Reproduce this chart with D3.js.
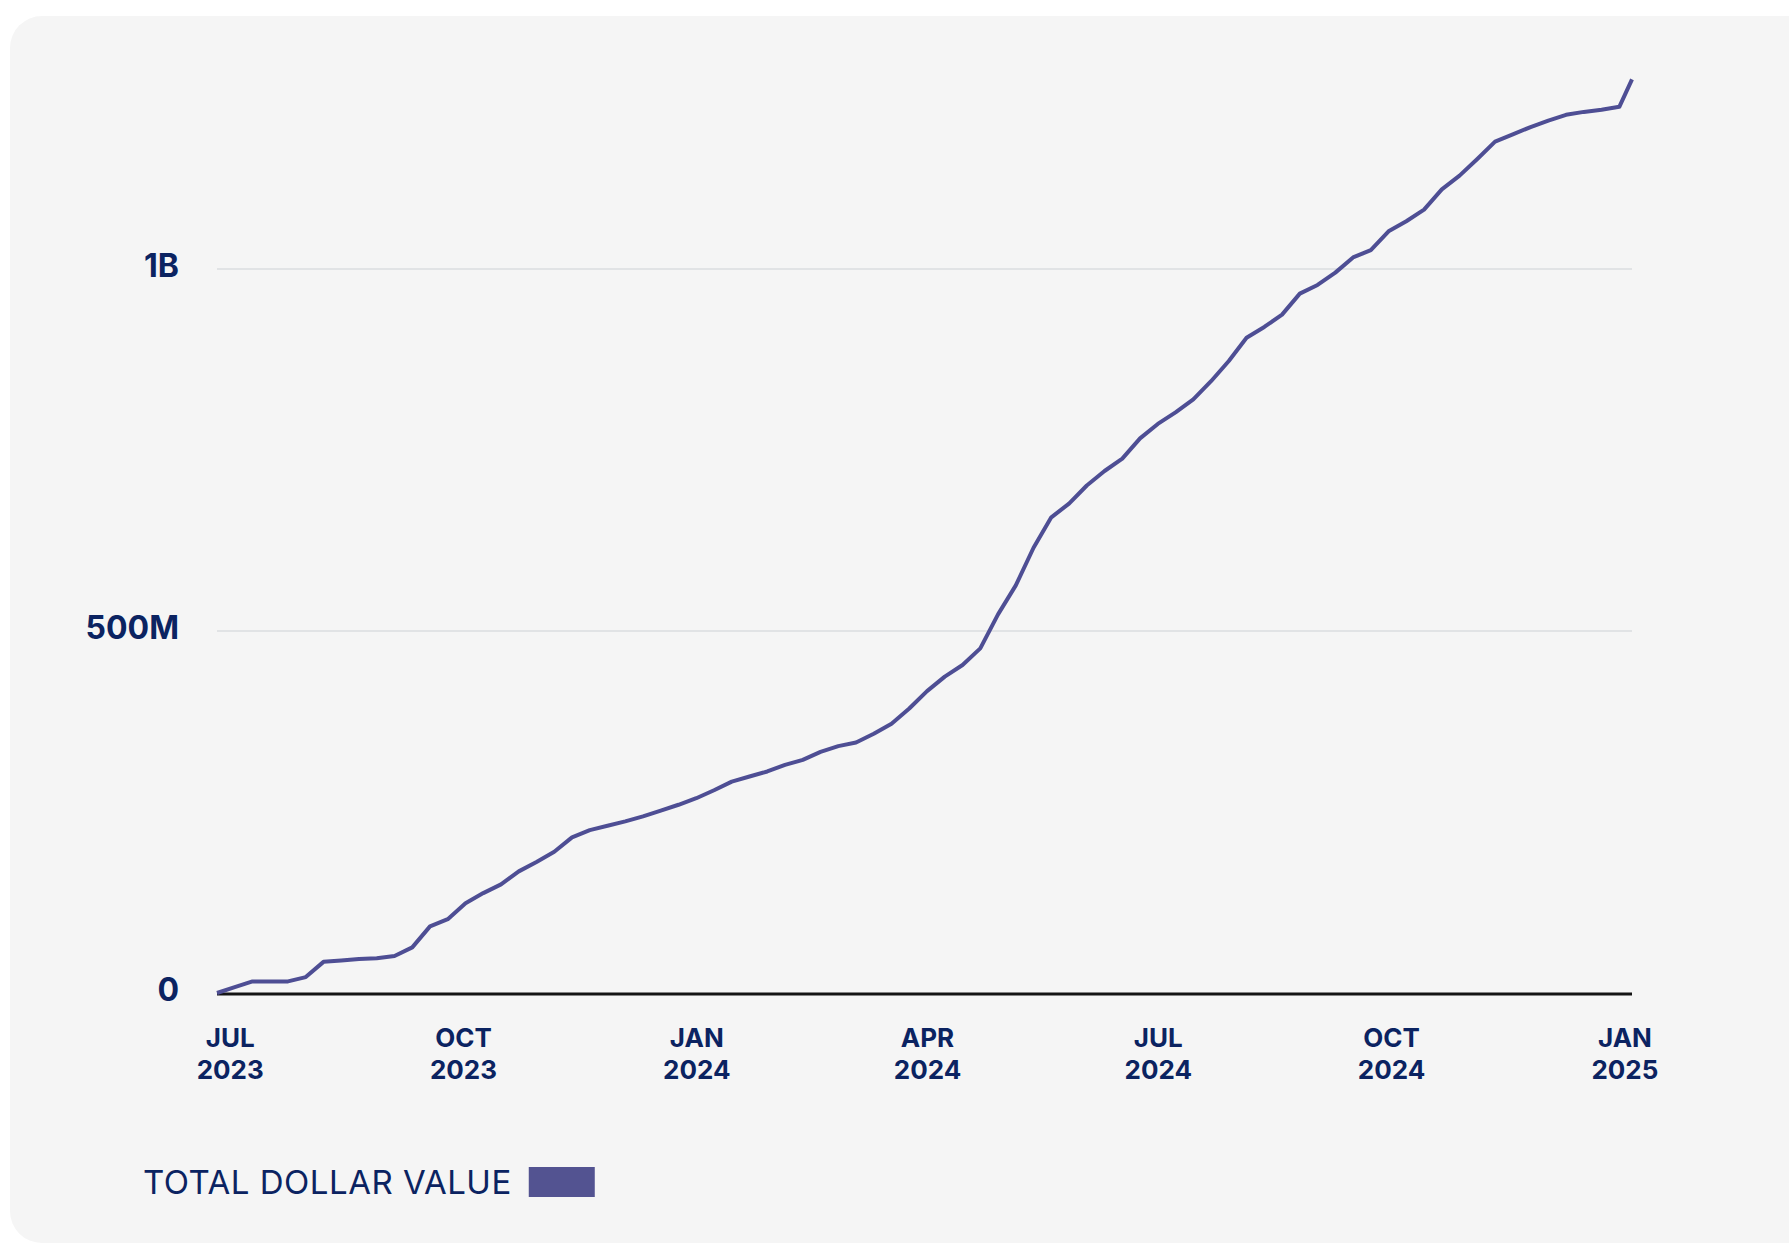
<!DOCTYPE html>
<html>
<head>
<meta charset="utf-8">
<script src="https://cdn.jsdelivr.net/npm/d3@7"></script>
<style>
  html, body { margin: 0; padding: 0; background: #fff; }
  svg { display: block; font-family: Inter, "Noto Sans", sans-serif; }
  .axis-label { fill: #0b2361; font-weight: 700; }
  .legend-label { fill: #0b2361; font-weight: 400; }
</style>
</head>
<body>
<div id="chart"></div>
<script>
// weekly cumulative totals, millions of dollars
const firstWeek = "2023-06-26";
const totals = [
  0, 8, 16, 16, 16, 22, 43, 45, 47, 48,
  51, 63, 92, 102, 124, 138, 150, 168, 181, 195,
  215, 225, 231, 237, 244, 252, 260, 269, 280, 292,
  299, 306, 315, 322, 333, 341, 346, 358, 372, 393,
  417, 437, 453, 476, 523, 563, 615, 657, 676, 701,
  721, 738, 766, 786, 802, 820, 845, 873, 905, 920,
  937, 966, 978, 995, 1016, 1026, 1052, 1066, 1082, 1110,
  1129, 1152, 1176, 1186, 1196, 1205, 1213, 1217, 1220, 1224
];
const lastDate = "2025-01-04";
const lastTotal = 1262;

const yTicks = [0, 500, 1000];
const yTickLabels = ["0", "500M", "1B"];
const seriesName = "TOTAL DOLLAR VALUE";
const seriesColor = "#4e4e94";

const parse = d3.utcParse("%Y-%m-%d");
const data = totals.map((v, i) => ({ date: d3.utcDay.offset(parse(firstWeek), i * 7), value: v }));
data.push({ date: parse(lastDate), value: lastTotal });

const width = 1789;
const height = 1245;
const margin = { top: 79, right: 157, bottom: 251, left: 217 };
const baseY = height - margin.bottom;

const x = d3.scaleUtc()
  .domain(d3.extent(data, (d) => d.date))
  .range([margin.left, width - margin.right]);

const y = d3.scaleLinear()
  .domain([0, 1000])
  .range([baseY - 1, 269]);

const svg = d3.select("#chart").append("svg")
  .attr("width", width)
  .attr("height", height)
  .attr("viewBox", [0, 0, width, height]);

// card
svg.append("rect")
  .attr("x", 10)
  .attr("y", 16)
  .attr("width", width + 60)
  .attr("height", 1227)
  .attr("rx", 32)
  .attr("fill", "#f5f5f5");

// gridlines
svg.append("g")
  .selectAll("line")
  .data(yTicks.filter((d) => d > 0))
  .join("line")
  .attr("x1", margin.left)
  .attr("x2", width - margin.right)
  .attr("y1", (d) => y(d))
  .attr("y2", (d) => y(d))
  .attr("stroke", "#e1e3e5")
  .attr("stroke-width", 2);

// y labels
const yAxis = svg.append("g")
  .attr("transform", `translate(${margin.left},0)`)
  .call(d3.axisLeft(y)
    .tickValues(yTicks)
    .tickSize(0)
    .tickPadding(38)
    .tickFormat((d, i) => yTickLabels[i]))
  .attr("font-family", null)
  .attr("font-size", null);
yAxis.select(".domain").remove();
yAxis.selectAll("text")
  .attr("class", "axis-label")
  .attr("font-size", 32)
  .attr("dy", "0.22em");

// baseline
svg.append("line")
  .attr("x1", margin.left)
  .attr("x2", width - margin.right)
  .attr("y1", baseY)
  .attr("y2", baseY)
  .attr("stroke", "#141414")
  .attr("stroke-width", 3);

// x labels (month / year on two lines)
const xAxis = svg.append("g")
  .attr("transform", `translate(0,${baseY})`)
  .call(d3.axisBottom(x)
    .ticks(d3.utcMonth.every(3))
    .tickSize(0)
    .tickFormat(() => ""))
  .attr("font-family", null)
  .attr("font-size", null);
xAxis.select(".domain").remove();
xAxis.selectAll(".tick text")
  .attr("class", "axis-label")
  .attr("font-size", 26)
  .attr("y", 0)
  .attr("dy", null)
  .each(function (d) {
    const t = d3.select(this);
    t.append("tspan").attr("x", 0).attr("y", 53).text(d3.utcFormat("%b")(d).toUpperCase());
    t.append("tspan").attr("x", 0).attr("y", 85).text(d3.utcFormat("%Y")(d));
  });

// line
svg.append("path")
  .datum(data)
  .attr("fill", "none")
  .attr("stroke", seriesColor)
  .attr("stroke-width", 4)
  .attr("stroke-linejoin", "round")
  .attr("d", d3.line()
    .x((d) => x(d.date))
    .y((d) => y(d.value)));

// legend
const legend = svg.append("g").attr("transform", "translate(143,1182)");
const legendText = legend.append("text")
  .attr("class", "legend-label")
  .attr("font-size", 33)
  .attr("letter-spacing", 0.5)
  .attr("dy", "0.36em")
  .text(seriesName);
const textW = legendText.node().getComputedTextLength();
legend.append("rect")
  .attr("x", textW + 17)
  .attr("y", -15)
  .attr("width", 66)
  .attr("height", 30)
  .attr("fill", "#535391");
</script>
</body>
</html>
